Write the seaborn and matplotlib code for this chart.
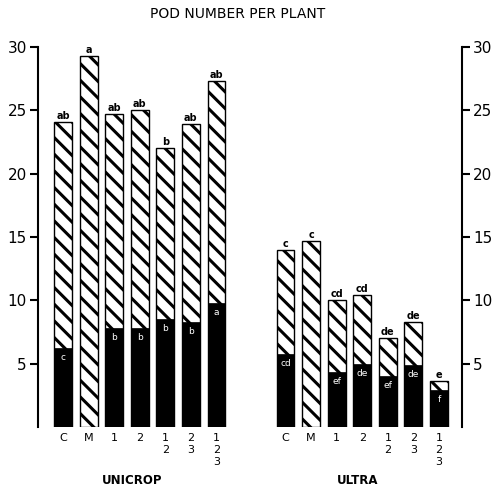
import numpy as np
import pandas as pd
import matplotlib
matplotlib.use("Agg")
import matplotlib.pyplot as plt
import seaborn as sns

# pod number per plant
treatments = ['C', 'M', '1', '2', '1\n2', '2\n3', '1\n2\n3']
unicrop_total = [24.1, 29.3, 24.7, 25.0, 22.0, 23.9, 27.3]
unicrop_black = [6.2, 0.0, 7.8, 7.8, 8.5, 8.3, 9.8]
ultra_total = [14.0, 14.7, 10.05, 10.4, 7.0, 8.3, 3.6]
ultra_black = [5.75, 0.0, 4.35, 5.0, 4.0, 4.9, 2.9]

unicrop_top = ['ab', 'a', 'ab', 'ab', 'b', 'ab', 'ab']
unicrop_in = ['c', '', 'b', 'b', 'b', 'b', 'a']
ultra_top = ['c', 'c', 'cd', 'cd', 'de', 'de', 'e']
ultra_in = ['cd', '', 'ef', 'de', 'ef', 'de', 'f']

sns.set_style("white")
plt.rcParams['font.family'] = ['DejaVu Sans']
plt.rcParams['hatch.linewidth'] = 2.2
plt.rcParams['hatch.color'] = 'black'
plt.rcParams['text.color'] = 'black'
plt.rcParams['xtick.color'] = 'black'
plt.rcParams['ytick.color'] = 'black'

n = len(treatments)
gap = 8.7
xpos = np.concatenate([np.arange(n), np.arange(n) + gap])

df = pd.DataFrame({
    'x': xpos,
    'total': unicrop_total + ultra_total,
    'black': unicrop_black + ultra_black,
    'top': unicrop_top + ultra_top,
    'inner': unicrop_in + ultra_in,
})

fig = plt.figure(figsize=(4.96, 4.87), dpi=100)
ax = fig.add_axes([38 / 496, 60 / 487, 424 / 496, 380 / 487])

sns.barplot(data=df, x='x', y='total', native_scale=True, width=0.7,
            color='white', edgecolor='black', linewidth=1.0,
            errorbar=None, ax=ax)
for p in ax.patches:
    p.set_hatch('\\\\')
    p.set_facecolor('white')
n_hatch = len(ax.patches)
sns.barplot(data=df, x='x', y='black', native_scale=True, width=0.7,
            color='black', edgecolor='black', linewidth=0.5,
            errorbar=None, ax=ax)
for p in ax.patches[n_hatch:]:
    p.set_facecolor('black')

for _, r in df.iterrows():
    ax.text(r.x, r.total + 0.08, r.top, ha='center', va='bottom',
            fontsize=7, fontweight='bold', clip_on=False)
    if r.inner:
        ax.text(r.x, r.black - 0.75, r.inner, ha='center', va='center',
                fontsize=6.5, color='white')

ax.set_xlim(-0.98, 15.6)
ax.set_ylim(0, 30)
ax.set_xticks(xpos)
ax.set_xticklabels(treatments * 2, fontsize=8, linespacing=1.3)
ax.tick_params(axis='x', length=0, pad=4)
ax.set_yticks([5, 10, 15, 20, 25, 30])
ax.tick_params(axis='y', left=True, right=True, labelleft=True, labelright=True,
               length=6, width=1.5, labelsize=11, direction='out', pad=2)
ax.set_xlabel('')
ax.set_ylabel('')
for s in ['top', 'bottom']:
    ax.spines[s].set_visible(False)
for s in ['left', 'right']:
    ax.spines[s].set_linewidth(1.5)
    ax.spines[s].set_color('black')

fig.text(238 / 496, 1 - 14 / 487, 'POD NUMBER PER PLANT', ha='center', va='center',
         fontsize=10)
fig.text(132 / 496, 1 - 480 / 487, 'UNICROP', ha='center', va='center',
         fontsize=8.5, fontweight='bold')
fig.text(358 / 496, 1 - 480 / 487, 'ULTRA', ha='center', va='center',
         fontsize=8.5, fontweight='bold')

fig.savefig('out.png', dpi=100)
